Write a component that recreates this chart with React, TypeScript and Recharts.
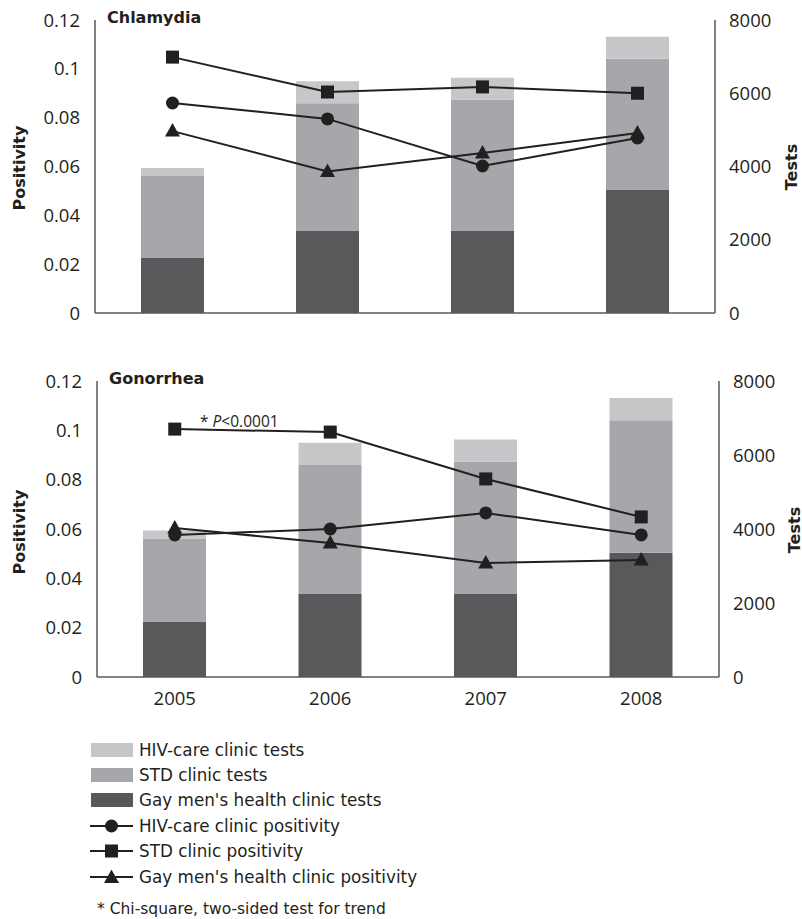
import { Bar, ComposedChart, Line, XAxis, YAxis } from 'recharts'

const years = ['2005', '2006', '2007', '2008']

// tests per clinic type (right axis), same for both panels
const gayTests = [1500, 2240, 2240, 3360]
const stdTests = [2240, 3490, 3580, 3580]
const hivTests = [220, 600, 600, 600]

// chlamydia positivity
const chlHivPos = [0.086, 0.0795, 0.0602, 0.0717]
const chlStdPos = [0.1048, 0.0905, 0.0926, 0.09]
const chlGayPos = [0.0745, 0.058, 0.0655, 0.0737]

// gonorrhea positivity
const gonHivPos = [0.0576, 0.06, 0.0665, 0.0576]
const gonStdPos = [0.1005, 0.0993, 0.0803, 0.0649]
const gonGayPos = [0.0604, 0.0543, 0.0462, 0.0474]

const leftTicks = [0, 0.02, 0.04, 0.06, 0.08, 0.1, 0.12]
const rightTicks = [0, 2000, 4000, 6000, 8000]

const INK = '#231f20'
const AXIS = '#58595b'
const HIV_FILL = '#c6c7c9'
const STD_FILL = '#a6a7aa'
const GAY_FILL = '#58595b'
const TICK_FONT = '"Open Sans", sans-serif'
const TEXT_FONT = '"DejaVu Sans", sans-serif'

const buildRows = (hiv: number[], std: number[], gay: number[]) =>
  years.map((year, i) => ({
    year,
    gayTests: gayTests[i],
    stdTests: stdTests[i],
    hivTests: hivTests[i],
    hivPos: hiv[i],
    stdPos: std[i],
    gayPos: gay[i],
  }))

const CircleDot = ({ cx, cy }: any) => <circle cx={cx} cy={cy} r={6.5} fill={INK} />
const SquareDot = ({ cx, cy }: any) => <rect x={cx - 6.5} y={cy - 6.5} width={13} height={13} fill={INK} />
const TriangleDot = ({ cx, cy }: any) => (
  <polygon points={`${cx},${cy - 8} ${cx + 7.5},${cy + 5.5} ${cx - 7.5},${cy + 5.5}`} fill={INK} />
)

const tickStyle = { fontFamily: TICK_FONT, fontSize: 18.5, fill: INK }

interface PanelProps {
  title: string
  rows: ReturnType<typeof buildRows>
  top: number
  height: number
  margin: { top: number; right: number; bottom: number; left: number }
  leftWidth: number
  rightWidth: number
  showYears: boolean
}

function Panel({ title, rows, top, height, margin, leftWidth, rightWidth, showYears }: PanelProps) {
  return (
    <div style={{ position: 'absolute', left: 0, top }}>
      <ComposedChart width={802} height={height} data={rows} margin={margin}>
        <XAxis
          dataKey='year'
          axisLine={{ stroke: AXIS, strokeWidth: 1.5 }}
          tickLine={false}
          tick={showYears ? tickStyle : false}
          tickSize={0}
          tickMargin={15}
          height={showYears ? 30 : 1}
        />
        <YAxis
          yAxisId='left'
          orientation='left'
          width={leftWidth}
          domain={[0, 0.12]}
          ticks={leftTicks}
          interval={0}
          axisLine={{ stroke: AXIS, strokeWidth: 1.5 }}
          tickLine={false}
          tickSize={0}
          tickMargin={15}
          tick={tickStyle}
          tickFormatter={(v) => String(Math.round(v * 100) / 100)}
        />
        <YAxis
          yAxisId='right'
          orientation='right'
          width={rightWidth}
          domain={[0, 8000]}
          ticks={rightTicks}
          interval={0}
          axisLine={{ stroke: AXIS, strokeWidth: 1.5 }}
          tickLine={false}
          tickSize={0}
          tickMargin={14}
          tick={{ ...tickStyle, textAnchor: 'start' }}
        />
        <Bar yAxisId='right' dataKey='gayTests' stackId='t' fill={GAY_FILL} barSize={63} isAnimationActive={false} />
        <Bar yAxisId='right' dataKey='stdTests' stackId='t' fill={STD_FILL} barSize={63} isAnimationActive={false} />
        <Bar yAxisId='right' dataKey='hivTests' stackId='t' fill={HIV_FILL} barSize={63} isAnimationActive={false} />
        <Line
          yAxisId='left'
          dataKey='gayPos'
          stroke={INK}
          strokeWidth={2}
          isAnimationActive={false}
          dot={(p: any) => <TriangleDot key={`t${p.index}`} cx={p.cx} cy={p.cy} />}
          activeDot={false}
        />
        <Line
          yAxisId='left'
          dataKey='hivPos'
          stroke={INK}
          strokeWidth={2}
          isAnimationActive={false}
          dot={(p: any) => <CircleDot key={`c${p.index}`} cx={p.cx} cy={p.cy} />}
          activeDot={false}
        />
        <Line
          yAxisId='left'
          dataKey='stdPos'
          stroke={INK}
          strokeWidth={2}
          isAnimationActive={false}
          dot={(p: any) => <SquareDot key={`s${p.index}`} cx={p.cx} cy={p.cy} />}
          activeDot={false}
        />
      </ComposedChart>
      <div
        style={{
          position: 'absolute',
          left: leftWidth + 12,
          top: margin.top - 12,
          fontFamily: TEXT_FONT,
          fontWeight: 'bold',
          fontSize: 16,
          color: INK,
        }}
      >
        {title}
      </div>
    </div>
  )
}

function VLabel({ text, x, y }: { text: string; x: number; y: number }) {
  return (
    <div
      style={{
        position: 'absolute',
        left: x,
        top: y,
        transform: 'translate(-50%, -50%) rotate(-90deg)',
        fontFamily: TEXT_FONT,
        fontWeight: 'bold',
        fontSize: 16,
        color: INK,
        whiteSpace: 'nowrap',
      }}
    >
      {text}
    </div>
  )
}

const legendItems = [
  { label: 'HIV-care clinic tests', kind: 'bar', fill: HIV_FILL },
  { label: 'STD clinic tests', kind: 'bar', fill: STD_FILL },
  { label: "Gay men's health clinic tests", kind: 'bar', fill: GAY_FILL },
  { label: 'HIV-care clinic positivity', kind: 'circle' },
  { label: 'STD clinic positivity', kind: 'square' },
  { label: "Gay men's health clinic positivity", kind: 'triangle' },
]

function LegendMark({ kind, fill }: { kind: string; fill?: string }) {
  return (
    <svg width={43} height={16} style={{ display: 'block' }}>
      {kind === 'bar' && <rect x={1} y={1} width={42} height={14} fill={fill} />}
      {kind !== 'bar' && <line x1={0} x2={43} y1={8} y2={8} stroke={INK} strokeWidth={2} />}
      {kind === 'circle' && <CircleDot cx={21.5} cy={8} />}
      {kind === 'square' && <SquareDot cx={21.5} cy={8} />}
      {kind === 'triangle' && <TriangleDot cx={21.5} cy={8.5} />}
    </svg>
  )
}

export default function App() {
  return (
    <div style={{ position: 'absolute', left: 0, top: 0, width: 802, height: 919, background: '#fff' }}>
      <Panel
        title='Chlamydia'
        rows={buildRows(chlHivPos, chlStdPos, chlGayPos)}
        top={0}
        height={340}
        margin={{ top: 20, right: 0, bottom: 26, left: 0 }}
        leftWidth={95}
        rightWidth={87}
        showYears={false}
      />
      <Panel
        title='Gonorrhea'
        rows={buildRows(gonHivPos, gonStdPos, gonGayPos)}
        top={360}
        height={350}
        margin={{ top: 21, right: 0, bottom: 3, left: 0 }}
        leftWidth={97}
        rightWidth={83}
        showYears
      />
      <VLabel text='Positivity' x={19} y={168} />
      <VLabel text='Tests' x={791} y={167} />
      <VLabel text='Positivity' x={19} y={532} />
      <VLabel text='Tests' x={794} y={530} />
      <div
        style={{
          position: 'absolute',
          left: 200,
          top: 410,
          fontFamily: TICK_FONT,
          fontSize: 15.5,
          color: INK,
          whiteSpace: 'nowrap',
        }}
      >
        * <i>P</i>&lt;0.0001
      </div>
      <div style={{ position: 'absolute', left: 90, top: 737 }}>
        {legendItems.map((item) => (
          <div key={item.label} style={{ display: 'flex', alignItems: 'center', height: 25.4 }}>
            <LegendMark kind={item.kind} fill={item.fill} />
            <span
              style={{
                marginLeft: 6,
                fontFamily: TEXT_FONT,
                fontSize: 16.8,
                color: INK,
                whiteSpace: 'nowrap',
              }}
            >
              {item.label}
            </span>
          </div>
        ))}
      </div>
      <div
        style={{
          position: 'absolute',
          left: 97,
          top: 900,
          fontFamily: TEXT_FONT,
          fontSize: 15.5,
          color: INK,
          whiteSpace: 'nowrap',
          lineHeight: '18px',
        }}
      >
        * Chi-square, two-sided test for trend
      </div>
    </div>
  )
}
